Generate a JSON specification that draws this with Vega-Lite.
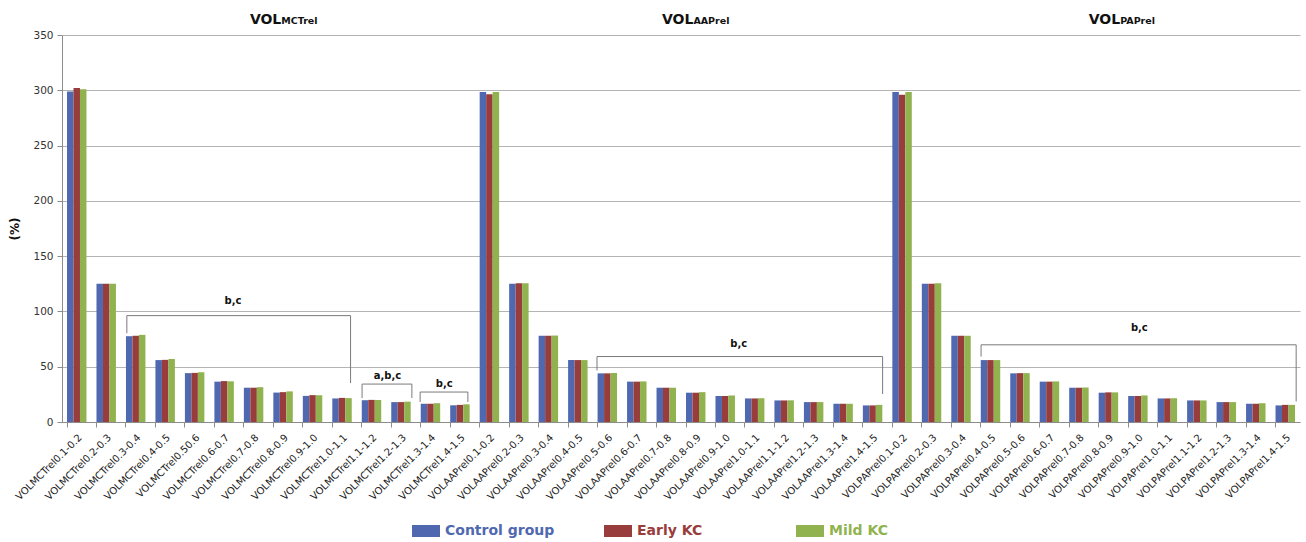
{
  "$schema": "https://vega.github.io/schema/vega-lite/v6.json",
  "width": 1238,
  "height": 387,
  "autosize": {"type": "none"},
  "padding": {"left": 62, "top": 35, "right": 6, "bottom": 120},
  "background": "white",
  "config": {"view": {"stroke": null}, "font": "DejaVu Sans"},
  "datasets": {
    "bars": [
      {"bin": "VOLMCTrel0.1-0.2", "group": "Control group", "pct": 299},
      {"bin": "VOLMCTrel0.1-0.2", "group": "Early KC", "pct": 302},
      {"bin": "VOLMCTrel0.1-0.2", "group": "Mild KC", "pct": 301},
      {"bin": "VOLMCTrel0.2-0.3", "group": "Control group", "pct": 125},
      {"bin": "VOLMCTrel0.2-0.3", "group": "Early KC", "pct": 125},
      {"bin": "VOLMCTrel0.2-0.3", "group": "Mild KC", "pct": 125},
      {"bin": "VOLMCTrel0.3-0.4", "group": "Control group", "pct": 77.6},
      {"bin": "VOLMCTrel0.3-0.4", "group": "Early KC", "pct": 78},
      {"bin": "VOLMCTrel0.3-0.4", "group": "Mild KC", "pct": 78.8},
      {"bin": "VOLMCTrel0.4-0.5", "group": "Control group", "pct": 56},
      {"bin": "VOLMCTrel0.4-0.5", "group": "Early KC", "pct": 56.2},
      {"bin": "VOLMCTrel0.4-0.5", "group": "Mild KC", "pct": 57},
      {"bin": "VOLMCTrel0.50.6", "group": "Control group", "pct": 44.2},
      {"bin": "VOLMCTrel0.50.6", "group": "Early KC", "pct": 44.4},
      {"bin": "VOLMCTrel0.50.6", "group": "Mild KC", "pct": 45},
      {"bin": "VOLMCTrel0.6-0.7", "group": "Control group", "pct": 36.5},
      {"bin": "VOLMCTrel0.6-0.7", "group": "Early KC", "pct": 37},
      {"bin": "VOLMCTrel0.6-0.7", "group": "Mild KC", "pct": 36.8},
      {"bin": "VOLMCTrel0.7-0.8", "group": "Control group", "pct": 31},
      {"bin": "VOLMCTrel0.7-0.8", "group": "Early KC", "pct": 31},
      {"bin": "VOLMCTrel0.7-0.8", "group": "Mild KC", "pct": 31.5},
      {"bin": "VOLMCTrel0.8-0.9", "group": "Control group", "pct": 26.6},
      {"bin": "VOLMCTrel0.8-0.9", "group": "Early KC", "pct": 27},
      {"bin": "VOLMCTrel0.8-0.9", "group": "Mild KC", "pct": 27.7},
      {"bin": "VOLMCTrel0.9-1.0", "group": "Control group", "pct": 23.6},
      {"bin": "VOLMCTrel0.9-1.0", "group": "Early KC", "pct": 24.3},
      {"bin": "VOLMCTrel0.9-1.0", "group": "Mild KC", "pct": 24.2},
      {"bin": "VOLMCTrel1.0-1.1", "group": "Control group", "pct": 21.3},
      {"bin": "VOLMCTrel1.0-1.1", "group": "Early KC", "pct": 21.8},
      {"bin": "VOLMCTrel1.0-1.1", "group": "Mild KC", "pct": 21.6},
      {"bin": "VOLMCTrel1.1-1.2", "group": "Control group", "pct": 19.7},
      {"bin": "VOLMCTrel1.1-1.2", "group": "Early KC", "pct": 20},
      {"bin": "VOLMCTrel1.1-1.2", "group": "Mild KC", "pct": 19.9},
      {"bin": "VOLMCTrel1.2-1.3", "group": "Control group", "pct": 18},
      {"bin": "VOLMCTrel1.2-1.3", "group": "Early KC", "pct": 18},
      {"bin": "VOLMCTrel1.2-1.3", "group": "Mild KC", "pct": 18.4},
      {"bin": "VOLMCTrel1.3-1.4", "group": "Control group", "pct": 16.5},
      {"bin": "VOLMCTrel1.3-1.4", "group": "Early KC", "pct": 16.5},
      {"bin": "VOLMCTrel1.3-1.4", "group": "Mild KC", "pct": 17},
      {"bin": "VOLMCTrel1.4-1.5", "group": "Control group", "pct": 15.1},
      {"bin": "VOLMCTrel1.4-1.5", "group": "Early KC", "pct": 15.5},
      {"bin": "VOLMCTrel1.4-1.5", "group": "Mild KC", "pct": 16},
      {"bin": "VOLAAPrel0.1-0.2", "group": "Control group", "pct": 298.5},
      {"bin": "VOLAAPrel0.1-0.2", "group": "Early KC", "pct": 296.5},
      {"bin": "VOLAAPrel0.1-0.2", "group": "Mild KC", "pct": 298.5},
      {"bin": "VOLAAPrel0.2-0.3", "group": "Control group", "pct": 125},
      {"bin": "VOLAAPrel0.2-0.3", "group": "Early KC", "pct": 125.5},
      {"bin": "VOLAAPrel0.2-0.3", "group": "Mild KC", "pct": 125.5},
      {"bin": "VOLAAPrel0.3-0.4", "group": "Control group", "pct": 78},
      {"bin": "VOLAAPrel0.3-0.4", "group": "Early KC", "pct": 78},
      {"bin": "VOLAAPrel0.3-0.4", "group": "Mild KC", "pct": 78.2},
      {"bin": "VOLAAPrel0.4-0.5", "group": "Control group", "pct": 56},
      {"bin": "VOLAAPrel0.4-0.5", "group": "Early KC", "pct": 56},
      {"bin": "VOLAAPrel0.4-0.5", "group": "Mild KC", "pct": 56},
      {"bin": "VOLAAPrel0.5-0.6", "group": "Control group", "pct": 44},
      {"bin": "VOLAAPrel0.5-0.6", "group": "Early KC", "pct": 44},
      {"bin": "VOLAAPrel0.5-0.6", "group": "Mild KC", "pct": 44.3},
      {"bin": "VOLAAPrel0.6-0.7", "group": "Control group", "pct": 36.5},
      {"bin": "VOLAAPrel0.6-0.7", "group": "Early KC", "pct": 36.5},
      {"bin": "VOLAAPrel0.6-0.7", "group": "Mild KC", "pct": 36.7},
      {"bin": "VOLAAPrel0.7-0.8", "group": "Control group", "pct": 31},
      {"bin": "VOLAAPrel0.7-0.8", "group": "Early KC", "pct": 31},
      {"bin": "VOLAAPrel0.7-0.8", "group": "Mild KC", "pct": 31},
      {"bin": "VOLAAPrel0.8-0.9", "group": "Control group", "pct": 26.5},
      {"bin": "VOLAAPrel0.8-0.9", "group": "Early KC", "pct": 26.5},
      {"bin": "VOLAAPrel0.8-0.9", "group": "Mild KC", "pct": 27},
      {"bin": "VOLAAPrel0.9-1.0", "group": "Control group", "pct": 23.5},
      {"bin": "VOLAAPrel0.9-1.0", "group": "Early KC", "pct": 23.5},
      {"bin": "VOLAAPrel0.9-1.0", "group": "Mild KC", "pct": 24},
      {"bin": "VOLAAPrel1.0-1.1", "group": "Control group", "pct": 21.3},
      {"bin": "VOLAAPrel1.0-1.1", "group": "Early KC", "pct": 21.3},
      {"bin": "VOLAAPrel1.0-1.1", "group": "Mild KC", "pct": 21.5},
      {"bin": "VOLAAPrel1.1-1.2", "group": "Control group", "pct": 19.5},
      {"bin": "VOLAAPrel1.1-1.2", "group": "Early KC", "pct": 19.5},
      {"bin": "VOLAAPrel1.1-1.2", "group": "Mild KC", "pct": 19.6},
      {"bin": "VOLAAPrel1.2-1.3", "group": "Control group", "pct": 18},
      {"bin": "VOLAAPrel1.2-1.3", "group": "Early KC", "pct": 18},
      {"bin": "VOLAAPrel1.2-1.3", "group": "Mild KC", "pct": 18},
      {"bin": "VOLAAPrel1.3-1.4", "group": "Control group", "pct": 16.5},
      {"bin": "VOLAAPrel1.3-1.4", "group": "Early KC", "pct": 16.5},
      {"bin": "VOLAAPrel1.3-1.4", "group": "Mild KC", "pct": 16.5},
      {"bin": "VOLAAPrel1.4-1.5", "group": "Control group", "pct": 15},
      {"bin": "VOLAAPrel1.4-1.5", "group": "Early KC", "pct": 15},
      {"bin": "VOLAAPrel1.4-1.5", "group": "Mild KC", "pct": 15.5},
      {"bin": "VOLPAPrel0.1-0.2", "group": "Control group", "pct": 298.5},
      {"bin": "VOLPAPrel0.1-0.2", "group": "Early KC", "pct": 296},
      {"bin": "VOLPAPrel0.1-0.2", "group": "Mild KC", "pct": 298.5},
      {"bin": "VOLPAPrel0.2-0.3", "group": "Control group", "pct": 125},
      {"bin": "VOLPAPrel0.2-0.3", "group": "Early KC", "pct": 125},
      {"bin": "VOLPAPrel0.2-0.3", "group": "Mild KC", "pct": 125.5},
      {"bin": "VOLPAPrel0.3-0.4", "group": "Control group", "pct": 78},
      {"bin": "VOLPAPrel0.3-0.4", "group": "Early KC", "pct": 78},
      {"bin": "VOLPAPrel0.3-0.4", "group": "Mild KC", "pct": 78},
      {"bin": "VOLPAPrel0.4-0.5", "group": "Control group", "pct": 56},
      {"bin": "VOLPAPrel0.4-0.5", "group": "Early KC", "pct": 56},
      {"bin": "VOLPAPrel0.4-0.5", "group": "Mild KC", "pct": 56},
      {"bin": "VOLPAPrel0.5-0.6", "group": "Control group", "pct": 44},
      {"bin": "VOLPAPrel0.5-0.6", "group": "Early KC", "pct": 44.2},
      {"bin": "VOLPAPrel0.5-0.6", "group": "Mild KC", "pct": 44.2},
      {"bin": "VOLPAPrel0.6-0.7", "group": "Control group", "pct": 36.5},
      {"bin": "VOLPAPrel0.6-0.7", "group": "Early KC", "pct": 36.5},
      {"bin": "VOLPAPrel0.6-0.7", "group": "Mild KC", "pct": 36.7},
      {"bin": "VOLPAPrel0.7-0.8", "group": "Control group", "pct": 31},
      {"bin": "VOLPAPrel0.7-0.8", "group": "Early KC", "pct": 31},
      {"bin": "VOLPAPrel0.7-0.8", "group": "Mild KC", "pct": 31.2},
      {"bin": "VOLPAPrel0.8-0.9", "group": "Control group", "pct": 26.5},
      {"bin": "VOLPAPrel0.8-0.9", "group": "Early KC", "pct": 26.8},
      {"bin": "VOLPAPrel0.8-0.9", "group": "Mild KC", "pct": 26.8},
      {"bin": "VOLPAPrel0.9-1.0", "group": "Control group", "pct": 23.5},
      {"bin": "VOLPAPrel0.9-1.0", "group": "Early KC", "pct": 23.5},
      {"bin": "VOLPAPrel0.9-1.0", "group": "Mild KC", "pct": 24},
      {"bin": "VOLPAPrel1.0-1.1", "group": "Control group", "pct": 21.3},
      {"bin": "VOLPAPrel1.0-1.1", "group": "Early KC", "pct": 21.3},
      {"bin": "VOLPAPrel1.0-1.1", "group": "Mild KC", "pct": 21.5},
      {"bin": "VOLPAPrel1.1-1.2", "group": "Control group", "pct": 19.5},
      {"bin": "VOLPAPrel1.1-1.2", "group": "Early KC", "pct": 19.5},
      {"bin": "VOLPAPrel1.1-1.2", "group": "Mild KC", "pct": 19.5},
      {"bin": "VOLPAPrel1.2-1.3", "group": "Control group", "pct": 18},
      {"bin": "VOLPAPrel1.2-1.3", "group": "Early KC", "pct": 18},
      {"bin": "VOLPAPrel1.2-1.3", "group": "Mild KC", "pct": 18},
      {"bin": "VOLPAPrel1.3-1.4", "group": "Control group", "pct": 16.5},
      {"bin": "VOLPAPrel1.3-1.4", "group": "Early KC", "pct": 16.5},
      {"bin": "VOLPAPrel1.3-1.4", "group": "Mild KC", "pct": 17},
      {"bin": "VOLPAPrel1.4-1.5", "group": "Control group", "pct": 15},
      {"bin": "VOLPAPrel1.4-1.5", "group": "Early KC", "pct": 15.5},
      {"bin": "VOLPAPrel1.4-1.5", "group": "Mild KC", "pct": 15.5}
    ],
    "brackets": [
      {"x1": 2.2, "x2": 2.2, "y1": 80.3, "y2": 96.2},
      {"x1": 2.2, "x2": 9.79, "y1": 96.2, "y2": 96.2},
      {"x1": 9.79, "x2": 9.79, "y1": 35.2, "y2": 96.2},
      {"x1": 10.18, "x2": 10.18, "y1": 21.7, "y2": 34.3},
      {"x1": 10.18, "x2": 11.87, "y1": 34.3, "y2": 34.3},
      {"x1": 11.87, "x2": 11.87, "y1": 21.7, "y2": 34.3},
      {"x1": 12.15, "x2": 12.15, "y1": 18.1, "y2": 27.1},
      {"x1": 12.15, "x2": 13.77, "y1": 27.1, "y2": 27.1},
      {"x1": 13.77, "x2": 13.77, "y1": 18.1, "y2": 27.1},
      {"x1": 18.15, "x2": 18.15, "y1": 46.6, "y2": 59.2},
      {"x1": 18.15, "x2": 27.84, "y1": 59.2, "y2": 59.2},
      {"x1": 27.84, "x2": 27.84, "y1": 25.3, "y2": 59.2},
      {"x1": 31.18, "x2": 31.18, "y1": 59.2, "y2": 69.8},
      {"x1": 31.18, "x2": 41.87, "y1": 69.8, "y2": 69.8},
      {"x1": 41.87, "x2": 41.87, "y1": 18.6, "y2": 69.8}
    ],
    "notes": [
      {"at": 5.8, "level": 109, "note": "b,c"},
      {"at": 11.04, "level": 41.2, "note": "a,b,c"},
      {"at": 12.97, "level": 34.6, "note": "b,c"},
      {"at": 22.96, "level": 70.4, "note": "b,c"},
      {"at": 36.55, "level": 84.9, "note": "b,c"}
    ],
    "heads": [
      {"at": 7.44, "main": "VOL", "sub": "MCTrel"},
      {"at": 21.42, "main": "VOL", "sub": "AAPrel"},
      {"at": 35.9, "main": "VOL", "sub": "PAPrel"}
    ]
  },
  "layer": [
    {
      "data": {"name": "bars"},
      "mark": {"type": "bar"},
      "encoding": {
        "x": {
          "field": "bin",
          "type": "nominal",
          "sort": null,
          "scale": {"paddingInner": 0.34, "paddingOuter": 0.17},
          "axis": {
            "title": null,
            "labelAngle": -45,
            "labelFontSize": 10,
            "labelColor": "#222222",
            "labelPadding": 5,
            "domainColor": "#8c8c8c",
            "tickColor": "#8c8c8c",
            "tickSize": 5,
            "bandPosition": 0,
            "grid": false
          }
        },
        "xOffset": {"field": "group", "type": "nominal", "sort": ["Control group", "Early KC", "Mild KC"]},
        "y": {
          "field": "pct",
          "type": "quantitative",
          "title": "(%)",
          "scale": {"domain": [0, 350], "nice": false},
          "axis": {
            "values": [0, 50, 100, 150, 200, 250, 300, 350],
            "labelFontSize": 10.5,
            "labelColor": "#333333",
            "labelPadding": 4,
            "tickSize": 5,
            "tickColor": "#8c8c8c",
            "domainColor": "#8c8c8c",
            "gridColor": "#b4b4b4",
            "titleFontSize": 12,
            "titleFontWeight": "bold",
            "titleColor": "#111111",
            "titlePadding": 11
          }
        },
        "color": {
          "field": "group",
          "type": "nominal",
          "sort": ["Control group", "Early KC", "Mild KC"],
          "scale": {"range": ["#4f68b0", "#983d3b", "#91b34f"]},
          "legend": {
            "title": null,
            "orient": "none",
            "legendX": 350,
            "legendY": 482,
            "direction": "horizontal",
            "symbolType": "M-1,-0.43L1,-0.43L1,0.43L-1,0.43Z",
            "symbolSize": 784,
            "symbolStrokeWidth": 0,
            "labelFontSize": 14,
            "labelFontWeight": "bold",
            "labelOffset": 5,
            "labelLimit": 300,
            "columnPadding": 49,
            "gridAlign": "all",
            "encode": {"labels": {"update": {"fill": {"scale": "color", "field": "value"}}}}
          }
        }
      }
    },
    {
      "data": {"name": "brackets"},
      "mark": {"type": "rule", "color": "#7a7a7a", "strokeWidth": 1},
      "encoding": {
        "x": {"field": "x1", "type": "quantitative", "scale": {"domain": [0, 42], "nice": false, "zero": false}, "axis": null},
        "x2": {"field": "x2"},
        "y": {"field": "y1", "type": "quantitative", "title": "(%)"},
        "y2": {"field": "y2"}
      }
    },
    {
      "data": {"name": "notes"},
      "mark": {"type": "text", "fontSize": 10, "fontWeight": "bold", "color": "#111111", "baseline": "middle"},
      "encoding": {
        "x": {"field": "at", "type": "quantitative", "scale": {"domain": [0, 42], "nice": false, "zero": false}, "axis": null},
        "y": {"field": "level", "type": "quantitative", "title": "(%)"},
        "text": {"field": "note"}
      }
    },
    {
      "data": {"name": "heads"},
      "mark": {"type": "text", "fontSize": 14, "fontWeight": "bold", "color": "#111111", "align": "right", "baseline": "alphabetic"},
      "encoding": {
        "x": {"field": "at", "type": "quantitative", "scale": {"domain": [0, 42], "nice": false, "zero": false}, "axis": null},
        "y": {"datum": 360, "type": "quantitative"},
        "text": {"field": "main"}
      }
    },
    {
      "data": {"name": "heads"},
      "mark": {"type": "text", "fontSize": 9.5, "fontWeight": "bold", "color": "#111111", "align": "left", "baseline": "alphabetic"},
      "encoding": {
        "x": {"field": "at", "type": "quantitative", "scale": {"domain": [0, 42], "nice": false, "zero": false}, "axis": null},
        "y": {"datum": 360, "type": "quantitative"},
        "text": {"field": "sub"}
      }
    }
  ],
  "resolve": {"scale": {"x": "independent"}}
}
